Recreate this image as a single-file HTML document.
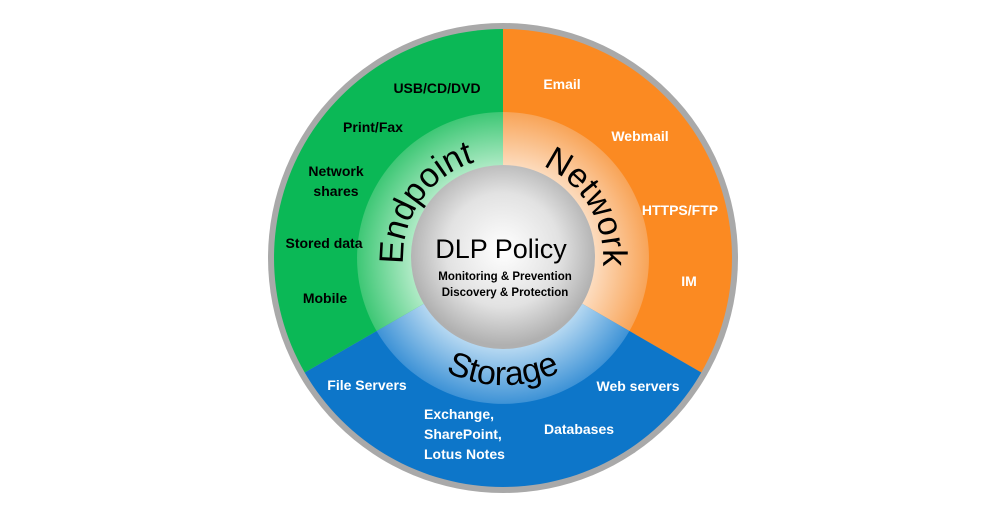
<!DOCTYPE html>
<html><head><meta charset="utf-8"><style>
html,body{margin:0;padding:0;background:#fff;}
svg{display:block;}
text{font-family:"Liberation Sans",sans-serif;}
.b{font-weight:bold;font-size:14px;}
.w{fill:#fff;}
</style></head><body>
<svg width="1000" height="515" viewBox="0 0 1000 515" xmlns="http://www.w3.org/2000/svg">
<defs>
<radialGradient id="gG" cx="503" cy="258" r="146" gradientUnits="userSpaceOnUse">
<stop offset="0.6" stop-color="#b7edcb"/><stop offset="1" stop-color="#3ec775"/></radialGradient>
<radialGradient id="gO" cx="503" cy="258" r="146" gradientUnits="userSpaceOnUse">
<stop offset="0.6" stop-color="#fde0c6"/><stop offset="1" stop-color="#f8a458"/></radialGradient>
<radialGradient id="gB" cx="503" cy="258" r="146" gradientUnits="userSpaceOnUse">
<stop offset="0.6" stop-color="#bcdcf3"/><stop offset="1" stop-color="#3d92d6"/></radialGradient>
<radialGradient id="gC" cx="503" cy="250" r="95" gradientUnits="userSpaceOnUse">
<stop offset="0" stop-color="#ffffff"/><stop offset="0.6" stop-color="#e2e2e2"/><stop offset="1" stop-color="#b0b0b0"/></radialGradient>
<path id="pE" d="M432.3,328.7 A100,100 0 0 1 545.3,167.4"/>
<path id="pN" d="M467.2,164.6 A100,100 0 0 1 568.6,333.5"/>
<path id="pS" d="M377.9,280.1 A127,127 0 0 0 628.1,280.1"/>
</defs>
<circle cx="503" cy="258" r="235" fill="#a9a9a9"/>
<!-- outer sectors r=229 -->
<path d="M503,258 L503,29 A229,229 0 0 1 701.3,372.5 Z" fill="#fb8a22"/>
<path d="M503,258 L701.3,372.5 A229,229 0 0 1 304.7,372.5 Z" fill="#0d76c9"/>
<path d="M503,258 L304.7,372.5 A229,229 0 0 1 503,29 Z" fill="#0bb856"/>
<!-- inner ring r=146 -->
<path d="M503,258 L503,112 A146,146 0 0 1 629.4,331 Z" fill="url(#gO)"/>
<path d="M503,258 L629.4,331 A146,146 0 0 1 376.6,331 Z" fill="url(#gB)"/>
<path d="M503,258 L376.6,331 A146,146 0 0 1 503,112 Z" fill="url(#gG)"/>
<circle cx="503" cy="257" r="92" fill="url(#gC)"/>
<text font-size="34"><textPath href="#pE" startOffset="50%" text-anchor="middle">Endpoint</textPath></text>
<text font-size="34"><textPath href="#pN" startOffset="50%" text-anchor="middle">Network</textPath></text>
<text font-size="34"><textPath href="#pS" startOffset="50%" text-anchor="middle">Storage</textPath></text>
<text x="501" y="258" font-size="27" text-anchor="middle">DLP Policy</text>
<text x="505" y="280" font-size="11.5" font-weight="bold" text-anchor="middle">Monitoring &amp; Prevention</text>
<text x="505" y="296" font-size="11.5" font-weight="bold" text-anchor="middle">Discovery &amp; Protection</text>
<g class="b" text-anchor="middle">
<text x="437" y="93">USB/CD/DVD</text>
<text x="373" y="132">Print/Fax</text>
<text x="336" y="176">Network</text>
<text x="336" y="196">shares</text>
<text x="324" y="248">Stored data</text>
<text x="325" y="303">Mobile</text>
<text class="w" x="562" y="89">Email</text>
<text class="w" x="640" y="141">Webmail</text>
<text class="w" x="680" y="215">HTTPS/FTP</text>
<text class="w" x="689" y="286">IM</text>
<text class="w" x="367" y="390">File Servers</text>
<text class="w" x="638" y="391">Web servers</text>
<text class="w" x="579" y="434">Databases</text>
</g>
<g class="b w">
<text x="424" y="419">Exchange,</text>
<text x="424" y="439">SharePoint,</text>
<text x="424" y="459">Lotus Notes</text>
</g>
</svg>
</body></html>
